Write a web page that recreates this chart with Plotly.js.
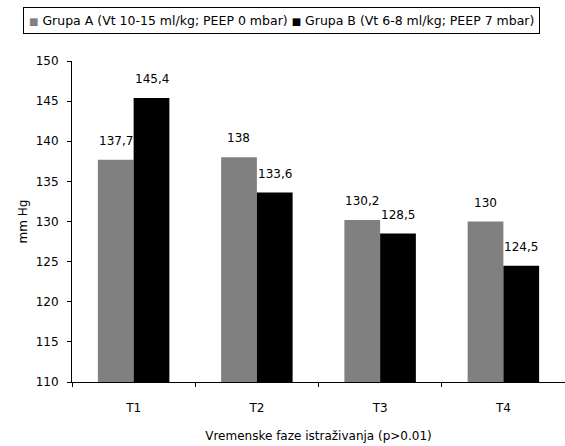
<!DOCTYPE html>
<html><head><meta charset="utf-8">
<script src="https://cdn.plot.ly/plotly-3.0.1.min.js"></script>
<style>html,body{margin:0;padding:0;background:#fff}#c{width:565px;height:446px}</style>
</head><body><div id="c"></div>
<script>
var categories = ["T1", "T2", "T3", "T4"];
var groupA = [137.7, 138, 130.2, 130];
var groupB = [145.4, 133.6, 128.5, 124.5];
var nameA = "Grupa A (Vt 10-15 ml/kg; PEEP 0 mbar)";
var nameB = "Grupa B (Vt 6-8 ml/kg; PEEP 7 mbar)";
var colorA = "#808080", colorB = "#000000";
var yTicks = [110, 115, 120, 125, 130, 135, 140, 145, 150];

function fmt(v){ return String(v).replace('.', ','); }
var font = {family: "DejaVu Sans, Verdana, sans-serif", size: 12, color: "#000"};

var traces = [
  {type: "bar", x: categories, y: groupA, name: nameA, marker: {color: colorA}, base: 0},
  {type: "bar", x: categories, y: groupB, name: nameB, marker: {color: colorB}, base: 0}
];
var ann = [];
categories.forEach(function(c, i){
  ann.push({x: c, y: groupA[i], text: fmt(groupA[i]), showarrow: false, xshift: -18, yshift: 19, font: font});
  ann.push({x: c, y: groupB[i], text: fmt(groupB[i]), showarrow: false, xshift: 18, yshift: 19, font: font});
});
// legend drawn as a boxed single-row text line (like the original legend)
var sq = function(col){ return '<span style="color:' + col + ';font-size:10px">■</span> '; };
ann.push({
  xref: "paper", yref: "paper", x: 0.424, y: 1.126, xanchor: "center", yanchor: "middle", showarrow: false,
  text: sq(colorA) + nameA + ' ' + sq(colorB) + nameB,
  font: {family: font.family, size: 12.5, color: "#000"},
  bordercolor: "#000", borderwidth: 1, borderpad: 5, bgcolor: "#fff"
});
var layout = {
  width: 565, height: 446,
  margin: {l: 72, r: 0, t: 61, b: 64, pad: 0},
  paper_bgcolor: "#fff", plot_bgcolor: "#fff",
  font: font,
  barmode: "group", bargap: 0.42, bargroupgap: 0,
  showlegend: false,
  xaxis: {type: "category", showline: true, linecolor: "#000", linewidth: 1, ticks: "outside", tickson: "boundaries",
          ticklen: 4, tickcolor: "#000", showgrid: false, zeroline: false, tickfont: font, ticklabelstandoff: 15,
          title: {text: "Vremenske faze istraživanja (p>0.01)", font: font, standoff: 17}},
  yaxis: {range: [110, 150], tickvals: yTicks, ticktext: yTicks.map(String), showline: true, linecolor: "#000", linewidth: 1,
          ticks: "outside", ticklen: 4, tickcolor: "#000", showgrid: false, zeroline: false, tickfont: font, ticklabelstandoff: 6,
          title: {text: "mm Hg", font: font, standoff: 5}},
  annotations: ann
};
Plotly.newPlot("c", traces, layout, {displayModeBar: false, staticPlot: true});
</script></body></html>
